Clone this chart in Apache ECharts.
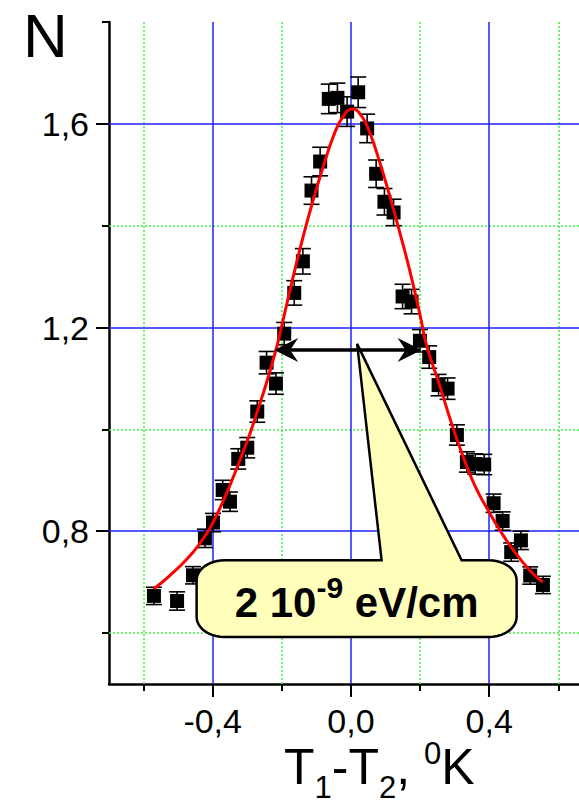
<!DOCTYPE html>
<html>
<head>
<meta charset="utf-8">
<script src="https://cdn.jsdelivr.net/npm/echarts@6/dist/echarts.min.js"></script>
<style>
  html, body { margin: 0; padding: 0; background: #fff; }
  #chart { width: 579px; height: 805px; }
</style>
</head>
<body>
<div id="chart"></div>
<script>
const FONT = '"Liberation Sans", Arial, Helvetica, sans-serif';

// Measured temperature difference T1-T2 (K) and normalised counts N
const deltaT = [-0.570, -0.503, -0.457, -0.4225, -0.399, -0.371, -0.350, -0.326, -0.300, -0.271,
                -0.244, -0.217, -0.193, -0.164, -0.139, -0.114, -0.089, -0.064, -0.039, -0.011,
                 0.021,  0.047,  0.073,  0.097,  0.1235, 0.1495, 0.1755, 0.1997, 0.2266, 0.2537,
                 0.2797, 0.3067, 0.3356, 0.3597, 0.3857, 0.4129, 0.439,  0.4638, 0.4919, 0.5188,
                 0.5556];
const counts = [0.673, 0.663, 0.7135, 0.786, 0.817, 0.881, 0.858, 0.942, 0.964, 1.035,
                1.131, 1.090, 1.188, 1.268, 1.330, 1.469, 1.526, 1.649, 1.651, 1.624,
                1.662, 1.591, 1.502, 1.447, 1.426, 1.261, 1.251, 1.174, 1.142, 1.087,
                1.080, 0.989, 0.936, 0.932, 0.931, 0.855, 0.820, 0.759, 0.782, 0.713,
                0.6945];
const countErr = [0.017, 0.018, 0.017, 0.018, 0.018, 0.019, 0.019, 0.020, 0.020, 0.021,
                  0.022, 0.021, 0.022, 0.024, 0.025, 0.027, 0.028, 0.029, 0.029, 0.029,
                  0.030, 0.028, 0.027, 0.026, 0.026, 0.024, 0.024, 0.022, 0.022, 0.021,
                  0.021, 0.020, 0.020, 0.020, 0.020, 0.018, 0.018, 0.018, 0.018, 0.017,
                  0.017];

// Fitted peak profile
const fitT = [-0.570, -0.524, -0.475, -0.437, -0.408, -0.384, -0.360, -0.321, -0.292, -0.268,
              -0.244, -0.217, -0.205, -0.167, -0.138, -0.109, -0.080, -0.051, -0.022, 0.005,
               0.031,  0.055,  0.084,  0.113,  0.142,  0.171,  0.200,  0.219,  0.258,  0.291,
               0.325,  0.359,  0.397,  0.431,  0.470,  0.518,  0.555];
const fitN = [0.687, 0.713, 0.745, 0.776, 0.806, 0.838, 0.874, 0.940, 0.992, 1.041,
              1.092, 1.156, 1.189, 1.300, 1.379, 1.451, 1.516, 1.575, 1.615, 1.629,
              1.615, 1.582, 1.523, 1.457, 1.385, 1.310, 1.225, 1.165, 1.084, 1.012,
              0.946, 0.889, 0.841, 0.802, 0.763, 0.723, 0.700];

// Axis ticks
const xMajorTicks = [-0.4, 0.0, 0.4];
const xMinorTicks = [-0.6, -0.2, 0.2, 0.6];
const yMajorTicks = [0.8, 1.2, 1.6];
const yMinorTicks = [0.6, 1.0, 1.4, 1.8];
const yMinorGrid = [0.6, 1.0, 1.4];

// Width marker and its label
const widthArrow = { from: -0.222, to: 0.2046, level: 1.156 };
const calloutBox = { left: -0.4465, right: 0.4795, top: 0.743, bottom: 0.5922 };
const calloutTip = [0.018, 1.168];
const calloutBase = [0.0888, 0.3203];

// Axis title pieces: text, font size, baseline
const xTitleParts = [
  ['T', 50, 784], ['1', 31, 798], ['-T', 50, 784], ['2', 31, 798],
  [', ', 50, 784], ['0', 31, 764], ['K', 50, 784]
];

const fmt = v => v.toFixed(1).replace('.', ',');

const chart = echarts.init(document.getElementById('chart'), null,
  { renderer: 'svg', width: 579, height: 805 });

const blueGrid = { color: '#2020ff', width: 1.5, type: 'solid' };
const greenGrid = { color: '#44ee44', width: 1.5, type: [2, 2] };
const tickStyle = { color: '#000', width: 2 };
const labelStyle = { color: '#000', fontSize: 34, fontFamily: FONT };

const gridLines = []
  .concat(xMinorTicks.map(v => ({ xAxis: v, lineStyle: greenGrid })))
  .concat(yMinorGrid.map(v => ({ yAxis: v, lineStyle: greenGrid })))
  .concat(xMajorTicks.map(v => ({ xAxis: v, lineStyle: blueGrid })))
  .concat(yMajorTicks.map(v => ({ yAxis: v, lineStyle: blueGrid })));

const option = {
  animation: false,
  backgroundColor: '#fff',
  grid: { left: 109, right: 0, top: 22, bottom: 121, containLabel: false, outerBoundsMode: 'none' },
  xAxis: [
    {
      type: 'value', min: -0.7, max: 0.66, position: 'bottom',
      axisLine: { show: true, onZero: false, lineStyle: { color: '#000', width: 2.5 } },
      axisTick: { show: true, customValues: xMajorTicks, length: 13, lineStyle: tickStyle },
      axisLabel: Object.assign({ show: true, customValues: xMajorTicks, formatter: fmt, margin: 20 }, labelStyle),
      splitLine: { show: false }
    },
    {
      type: 'value', min: -0.7, max: 0.66, position: 'bottom',
      axisLine: { show: false, onZero: false },
      axisTick: { show: true, customValues: xMinorTicks, length: 7, lineStyle: tickStyle },
      axisLabel: { show: false },
      splitLine: { show: false }
    }
  ],
  yAxis: [
    {
      type: 'value', min: 0.5, max: 1.8, position: 'left',
      axisLine: { show: true, onZero: false, lineStyle: { color: '#000', width: 2.5 } },
      axisTick: { show: true, customValues: yMajorTicks, length: 13, lineStyle: tickStyle },
      axisLabel: Object.assign({ show: true, customValues: yMajorTicks, formatter: fmt, margin: 20 }, labelStyle),
      splitLine: { show: false }
    },
    {
      type: 'value', min: 0.5, max: 1.8, position: 'left',
      axisLine: { show: false, onZero: false },
      axisTick: { show: true, customValues: yMinorTicks, length: 7, lineStyle: tickStyle },
      axisLabel: { show: false },
      splitLine: { show: false }
    }
  ],
  series: [
    {
      // background grid
      type: 'scatter', data: [], symbolSize: 0, silent: true, z: 1,
      markLine: {
        silent: true, symbol: ['none', 'none'], label: { show: false },
        emphasis: { disabled: true }, animation: false, z: 1,
        data: gridLines
      }
    },
    {
      // error bars
      type: 'custom', z: 3, silent: true,
      data: deltaT.map((t, i) => [t, counts[i], countErr[i]]),
      encode: { x: 0, y: 1 },
      renderItem: (params, api) => {
        const x = api.value(0), y = api.value(1), e = api.value(2);
        const hi = api.coord([x, y + e]);
        const lo = api.coord([x, y - e]);
        const hw = 8;
        const st = { stroke: '#000', lineWidth: 1.6 };
        return {
          type: 'group',
          children: [
            { type: 'line', shape: { x1: hi[0], y1: hi[1], x2: lo[0], y2: lo[1] }, style: st },
            { type: 'line', shape: { x1: hi[0] - hw, y1: hi[1], x2: hi[0] + hw, y2: hi[1] }, style: st },
            { type: 'line', shape: { x1: lo[0] - hw, y1: lo[1], x2: lo[0] + hw, y2: lo[1] }, style: st }
          ]
        };
      }
    },
    {
      // measured points
      type: 'scatter', z: 4, silent: true,
      symbol: 'rect', symbolSize: 14,
      itemStyle: { color: '#000', opacity: 1 },
      data: deltaT.map((t, i) => [t, counts[i]])
    },
    {
      // fit curve
      type: 'line', z: 5, silent: true,
      showSymbol: false, smooth: 0.5,
      lineStyle: { color: '#ff0000', width: 3 },
      data: fitT.map((t, i) => [t, fitN[i]])
    }
  ]
};

chart.setOption(option);

const P = (x, y) => chart.convertToPixel({ seriesIndex: 2 }, [x, y]);

// callout balloon
const tl = P(calloutBox.left, calloutBox.top);
const br = P(calloutBox.right, calloutBox.bottom);
const L = tl[0], T = tl[1], R = br[0], B = br[1];
const tip = P(calloutTip[0], calloutTip[1]);
const bL = P(calloutBase[0], calloutBox.top)[0];
const bR = P(calloutBase[1], calloutBox.top)[0];
const rx = 28, ry = 20;
function corner(cx, cy, a0, a1) {
  const pts = [];
  for (let k = 0; k <= 10; k++) {
    const a = (a0 + (a1 - a0) * k / 10) * Math.PI / 180;
    pts.push([cx + rx * Math.cos(a), cy + ry * Math.sin(a)]);
  }
  return pts;
}
const balloon = [tip, [bR, T]]
  .concat(corner(R - rx, T + ry, -90, 0))
  .concat(corner(R - rx, B - ry, 0, 90))
  .concat(corner(L + rx, B - ry, 90, 180))
  .concat(corner(L + rx, T + ry, 180, 270))
  .concat([[bL, T]]);

// double arrow
const aL = P(widthArrow.from, widthArrow.level);
const aR = P(widthArrow.to, widthArrow.level);
const ay = aL[1];
const hl = 24, hwid = 12, notch = 16;
const headL = [[aL[0], ay], [aL[0] + hl, ay - hwid], [aL[0] + notch, ay], [aL[0] + hl, ay + hwid]];
const headR = [[aR[0], ay], [aR[0] - hl, ay - hwid], [aR[0] - notch, ay], [aR[0] - hl, ay + hwid]];

// axis title laid out piece by piece (subscripts / superscript)
const measure = document.createElement('canvas').getContext('2d');
const CENTRAL = 0.3465;
let penX = 284;
const titleEls = xTitleParts.map(([txt, size, base]) => {
  measure.font = size + 'px ' + FONT;
  const el = {
    type: 'text', z: 101, silent: true,
    x: penX, y: base - CENTRAL * size,
    style: { text: txt, fontSize: size, fontFamily: FONT, fill: '#000',
             align: 'left', verticalAlign: 'middle', lineHeight: size }
  };
  penX += measure.measureText(txt).width;
  return el;
});

chart.setOption({
  graphic: [
    {
      type: 'polygon', z: 100, silent: true,
      shape: { points: balloon },
      style: { fill: '#ffffbb', stroke: '#000', lineWidth: 2.5, lineJoin: 'miter' }
    },
    {
      type: 'text', z: 101, silent: true,
      x: (L + R) / 2, y: (T + B) / 2 + 3.8,
      style: {
        text: '{m|2 10}{s|-9}{m| eV/cm}',
        align: 'center', verticalAlign: 'middle',
        rich: {
          m: { fontSize: 42, fontWeight: 'bold', fontFamily: FONT, fill: '#000', lineHeight: 60 },
          s: { fontSize: 30, fontWeight: 'bold', fontFamily: FONT, fill: '#000', lineHeight: 27.6, verticalAlign: 'top' }
        }
      }
    },
    {
      type: 'line', z: 102, silent: true,
      shape: { x1: aL[0] + 10, y1: ay, x2: aR[0] - 10, y2: ay },
      style: { stroke: '#000', lineWidth: 3.5 }
    },
    { type: 'polygon', z: 102, silent: true, shape: { points: headL }, style: { fill: '#000' } },
    { type: 'polygon', z: 102, silent: true, shape: { points: headR }, style: { fill: '#000' } },
    {
      type: 'text', z: 101, silent: true,
      x: 23, y: 56.5 - CENTRAL * 62,
      style: { text: 'N', fontSize: 62, fontFamily: FONT, fill: '#000',
               align: 'left', verticalAlign: 'middle', lineHeight: 62 }
    }
  ].concat(titleEls)
});
</script>
</body>
</html>
